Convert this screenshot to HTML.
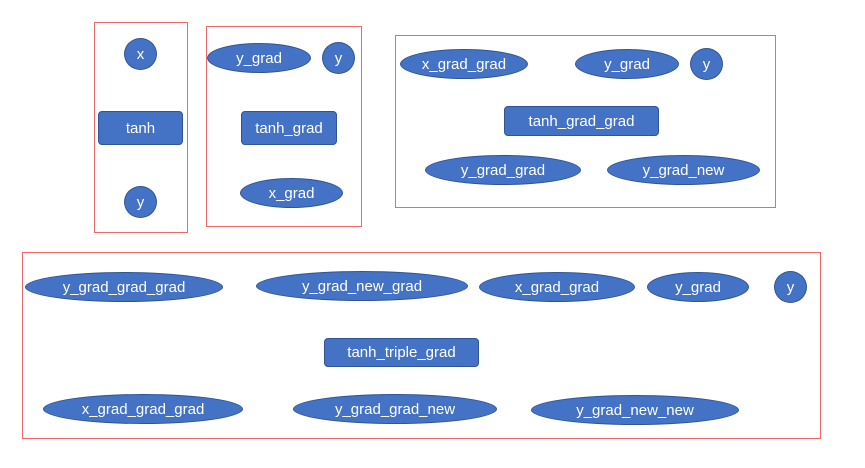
<!DOCTYPE html>
<html><head><style>
body{margin:0;width:865px;height:468px;background:#fff;position:relative;overflow:hidden;font-family:"Liberation Sans",sans-serif}
.b{position:absolute;border:1.5px solid #ee6a6a;box-sizing:border-box}
.n{position:absolute;background:#4472c4;border:1px solid #2f5597;box-sizing:border-box;color:#fff;font-size:15px;display:flex;align-items:center;justify-content:center;white-space:nowrap}
.e{border-radius:50%}
.r{border-radius:4px}
</style></head><body>
<div class="b" style="left:94px;top:22px;width:94px;height:211px"></div>
<div class="b" style="left:206px;top:26px;width:156px;height:201px"></div>
<div class="b" style="left:395px;top:35px;width:381px;height:173px"></div>
<div class="b" style="left:22px;top:252px;width:799px;height:187px"></div>

<div class="n e" style="left:124px;top:38px;width:33px;height:32px">x</div>
<div class="n r" style="left:98px;top:111px;width:85px;height:34px">tanh</div>
<div class="n e" style="left:124px;top:186px;width:33px;height:32px">y</div>

<div class="n e" style="left:207px;top:43px;width:104px;height:30px">y_grad</div>
<div class="n e" style="left:322px;top:42px;width:33px;height:32px">y</div>
<div class="n r" style="left:241px;top:111px;width:96px;height:34px">tanh_grad</div>
<div class="n e" style="left:240px;top:178px;width:103px;height:30px">x_grad</div>

<div class="n e" style="left:400px;top:49px;width:128px;height:30px">x_grad_grad</div>
<div class="n e" style="left:575px;top:49px;width:104px;height:30px">y_grad</div>
<div class="n e" style="left:690px;top:48px;width:33px;height:32px">y</div>
<div class="n r" style="left:504px;top:106px;width:155px;height:30px">tanh_grad_grad</div>
<div class="n e" style="left:425px;top:155px;width:156px;height:30px">y_grad_grad</div>
<div class="n e" style="left:607px;top:155px;width:153px;height:30px">y_grad_new</div>

<div class="n e" style="left:25px;top:272px;width:198px;height:30px">y_grad_grad_grad</div>
<div class="n e" style="left:256px;top:271px;width:212px;height:30px">y_grad_new_grad</div>
<div class="n e" style="left:479px;top:272px;width:156px;height:30px">x_grad_grad</div>
<div class="n e" style="left:647px;top:272px;width:102px;height:30px">y_grad</div>
<div class="n e" style="left:774px;top:271px;width:33px;height:32px">y</div>
<div class="n r" style="left:324px;top:338px;width:155px;height:29px">tanh_triple_grad</div>
<div class="n e" style="left:43px;top:394px;width:200px;height:30px">x_grad_grad_grad</div>
<div class="n e" style="left:293px;top:394px;width:204px;height:30px">y_grad_grad_new</div>
<div class="n e" style="left:531px;top:395px;width:208px;height:30px">y_grad_new_new</div>
</body></html>
